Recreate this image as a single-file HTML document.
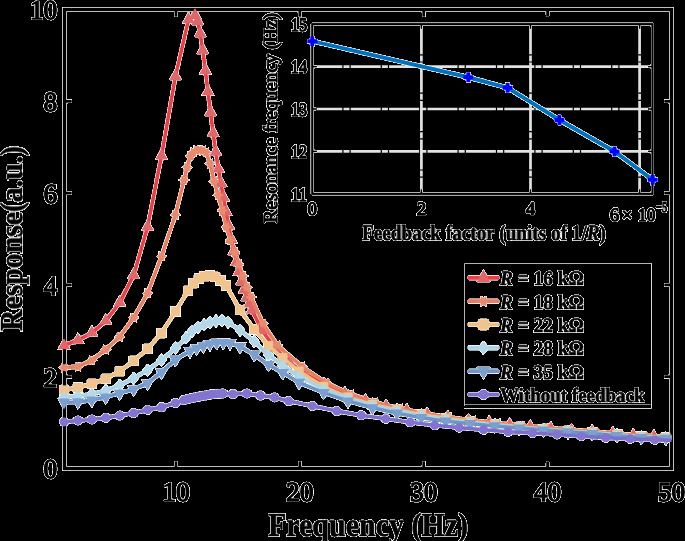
<!DOCTYPE html>
<html><head><meta charset="utf-8"><style>html,body{margin:0;padding:0;background:#000;width:685px;height:541px;overflow:hidden}svg{display:block}</style></head>
<body><svg width="685" height="541" viewBox="0 0 685 541"><defs><clipPath id="pc"><rect x="64.5" y="9.5" width="607" height="459"/></clipPath>
<filter id="halo" filterUnits="userSpaceOnUse" x="0" y="0" width="685" height="541" color-interpolation-filters="sRGB"><feConvolveMatrix in="SourceAlpha" order="3" kernelMatrix="0.0005 0.0016 0.0005 0.0016 1 0.0016 0.0005 0.0016 0.0005" divisor="1" edgeMode="none" result="b"/><feComponentTransfer in="b" result="m2"><feFuncA type="linear" slope="165.75" intercept="0"/></feComponentTransfer><feComponentTransfer in="SourceAlpha" result="m1"><feFuncA type="linear" slope="255.0" intercept="0"/></feComponentTransfer><feComposite in="m1" in2="m2" operator="arithmetic" k1="0" k2="1" k3="1" k4="0" result="m"/><feFlood flood-color="#ffffff" result="w"/><feComposite in="SourceGraphic" in2="w" operator="over" result="ow"/><feComposite in="ow" in2="m" operator="in"/></filter></defs>
<line x1="421.40" y1="24.2" x2="421.40" y2="193.8" stroke="#e2e2e2" stroke-width="2.7" stroke-dasharray="30 1.2 6 1.2"/>
<line x1="530.50" y1="24.2" x2="530.50" y2="193.8" stroke="#e2e2e2" stroke-width="2.7" stroke-dasharray="30 1.2 6 1.2"/>
<line x1="639.60" y1="24.2" x2="639.60" y2="193.8" stroke="#e2e2e2" stroke-width="2.7" stroke-dasharray="30 1.2 6 1.2"/>
<line x1="312.3" y1="151.40" x2="652.5" y2="151.40" stroke="#e2e2e2" stroke-width="2.7" stroke-dasharray="30 1.2 6 1.2"/>
<line x1="312.3" y1="109.00" x2="652.5" y2="109.00" stroke="#e2e2e2" stroke-width="2.7" stroke-dasharray="30 1.2 6 1.2"/>
<line x1="312.3" y1="66.60" x2="652.5" y2="66.60" stroke="#e2e2e2" stroke-width="2.7" stroke-dasharray="30 1.2 6 1.2"/>
<g filter="url(#halo)">
<rect x="64.5" y="9.5" width="607" height="459" fill="none" stroke="#000" stroke-width="3.5"/>
<line x1="175.99" y1="467" x2="175.99" y2="461.3" stroke="#000" stroke-width="2.8"/>
<line x1="175.99" y1="11" x2="175.99" y2="16.7" stroke="#000" stroke-width="2.8"/>
<line x1="299.87" y1="467" x2="299.87" y2="461.3" stroke="#000" stroke-width="2.8"/>
<line x1="299.87" y1="11" x2="299.87" y2="16.7" stroke="#000" stroke-width="2.8"/>
<line x1="423.74" y1="467" x2="423.74" y2="461.3" stroke="#000" stroke-width="2.8"/>
<line x1="423.74" y1="11" x2="423.74" y2="16.7" stroke="#000" stroke-width="2.8"/>
<line x1="547.62" y1="467" x2="547.62" y2="461.3" stroke="#000" stroke-width="2.8"/>
<line x1="547.62" y1="11" x2="547.62" y2="16.7" stroke="#000" stroke-width="2.8"/>
<line x1="66" y1="376.70" x2="71.7" y2="376.70" stroke="#000" stroke-width="2.8"/>
<line x1="670" y1="376.70" x2="664.3" y2="376.70" stroke="#000" stroke-width="2.8"/>
<line x1="66" y1="284.90" x2="71.7" y2="284.90" stroke="#000" stroke-width="2.8"/>
<line x1="670" y1="284.90" x2="664.3" y2="284.90" stroke="#000" stroke-width="2.8"/>
<line x1="66" y1="193.10" x2="71.7" y2="193.10" stroke="#000" stroke-width="2.8"/>
<line x1="670" y1="193.10" x2="664.3" y2="193.10" stroke="#000" stroke-width="2.8"/>
<line x1="66" y1="101.30" x2="71.7" y2="101.30" stroke="#000" stroke-width="2.8"/>
<line x1="670" y1="101.30" x2="664.3" y2="101.30" stroke="#000" stroke-width="2.8"/>
<polyline clip-path="url(#pc)" points="64.00,345.50 77.93,340.16 91.86,332.85 105.79,320.86 119.72,302.57 133.65,275.18 147.58,226.92 161.51,155.86 175.44,76.31 188.50,19.66 195.00,15.45 197.59,21.26 200.18,33.22 202.77,50.32 205.36,70.60 207.95,91.62 210.55,112.45 213.14,132.99 215.73,152.11 218.32,168.91 220.91,183.45 223.50,197.52 226.09,211.78 228.68,225.91 231.27,239.50 233.86,251.35 236.45,262.03 239.05,271.93 241.64,281.25 244.23,289.78 246.82,297.25 249.41,303.85 252.00,310.00 262.00,330.55 275.00,348.13 289.00,361.90 304.00,372.94 324.30,384.71 344.90,393.84 365.50,400.86 386.10,406.23 406.70,410.67 427.30,414.46 447.90,417.67 468.50,420.46 489.10,422.90 509.70,425.05 530.30,426.98 550.90,428.74 571.50,430.32 592.10,431.87 612.70,433.66 633.30,435.59 653.90,436.72 672.00,437.20" fill="none" stroke="#ec3f45" stroke-width="3.6" stroke-linejoin="round"/>
<path d="M64.00,338.17L70.20,349.17L57.80,349.17Z" fill="#e0666a"/>
<path d="M77.93,332.83L84.13,343.83L71.73,343.83Z" fill="#e0666a"/>
<path d="M91.86,325.52L98.06,336.52L85.66,336.52Z" fill="#e0666a"/>
<path d="M105.79,313.52L111.99,324.52L99.59,324.52Z" fill="#e0666a"/>
<path d="M119.72,295.24L125.92,306.24L113.52,306.24Z" fill="#e0666a"/>
<path d="M133.65,267.85L139.85,278.85L127.45,278.85Z" fill="#e0666a"/>
<path d="M147.58,219.59L153.78,230.59L141.38,230.59Z" fill="#e0666a"/>
<path d="M161.51,148.53L167.71,159.53L155.31,159.53Z" fill="#e0666a"/>
<path d="M175.44,68.97L181.64,79.97L169.24,79.97Z" fill="#e0666a"/>
<path d="M188.50,12.33L194.70,23.33L182.30,23.33Z" fill="#e0666a"/>
<path d="M195.00,8.12L201.20,19.12L188.80,19.12Z" fill="#e0666a"/>
<path d="M197.59,13.93L203.79,24.93L191.39,24.93Z" fill="#e0666a"/>
<path d="M200.18,25.90L206.38,36.90L193.98,36.90Z" fill="#e0666a"/>
<path d="M202.77,43.00L208.97,54.00L196.57,54.00Z" fill="#e0666a"/>
<path d="M205.36,63.30L211.56,74.30L199.16,74.30Z" fill="#e0666a"/>
<path d="M207.95,84.33L214.15,95.33L201.75,95.33Z" fill="#e0666a"/>
<path d="M210.55,105.08L216.75,116.08L204.35,116.08Z" fill="#e0666a"/>
<path d="M213.14,125.63L219.34,136.63L206.94,136.63Z" fill="#e0666a"/>
<path d="M215.73,144.76L221.93,155.76L209.53,155.76Z" fill="#e0666a"/>
<path d="M218.32,161.57L224.52,172.57L212.12,172.57Z" fill="#e0666a"/>
<path d="M220.91,176.11L227.11,187.11L214.71,187.11Z" fill="#e0666a"/>
<path d="M223.50,190.19L229.70,201.19L217.30,201.19Z" fill="#e0666a"/>
<path d="M226.09,204.45L232.29,215.45L219.89,215.45Z" fill="#e0666a"/>
<path d="M228.68,218.58L234.88,229.58L222.48,229.58Z" fill="#e0666a"/>
<path d="M231.27,232.18L237.47,243.18L225.07,243.18Z" fill="#e0666a"/>
<path d="M233.86,244.03L240.06,255.03L227.66,255.03Z" fill="#e0666a"/>
<path d="M236.45,254.71L242.65,265.71L230.25,265.71Z" fill="#e0666a"/>
<path d="M239.05,264.58L245.25,275.58L232.85,275.58Z" fill="#e0666a"/>
<path d="M241.64,273.91L247.84,284.91L235.44,284.91Z" fill="#e0666a"/>
<path d="M244.23,282.44L250.43,293.44L238.03,293.44Z" fill="#e0666a"/>
<path d="M246.82,289.91L253.02,300.91L240.62,300.91Z" fill="#e0666a"/>
<path d="M249.41,296.52L255.61,307.52L243.21,307.52Z" fill="#e0666a"/>
<path d="M252.00,302.67L258.20,313.67L245.80,313.67Z" fill="#e0666a"/>
<path d="M262.00,323.21L268.20,334.21L255.80,334.21Z" fill="#e0666a"/>
<path d="M275.00,340.80L281.20,351.80L268.80,351.80Z" fill="#e0666a"/>
<path d="M289.00,354.57L295.20,365.57L282.80,365.57Z" fill="#e0666a"/>
<path d="M304.00,365.61L310.20,376.61L297.80,376.61Z" fill="#e0666a"/>
<path d="M324.30,377.37L330.50,388.37L318.10,388.37Z" fill="#e0666a"/>
<path d="M344.90,386.50L351.10,397.50L338.70,397.50Z" fill="#e0666a"/>
<path d="M365.50,393.52L371.70,404.52L359.30,404.52Z" fill="#e0666a"/>
<path d="M386.10,398.90L392.30,409.90L379.90,409.90Z" fill="#e0666a"/>
<path d="M406.70,403.34L412.90,414.34L400.50,414.34Z" fill="#e0666a"/>
<path d="M427.30,407.13L433.50,418.13L421.10,418.13Z" fill="#e0666a"/>
<path d="M447.90,410.34L454.10,421.34L441.70,421.34Z" fill="#e0666a"/>
<path d="M468.50,413.12L474.70,424.12L462.30,424.12Z" fill="#e0666a"/>
<path d="M489.10,415.57L495.30,426.57L482.90,426.57Z" fill="#e0666a"/>
<path d="M509.70,417.72L515.90,428.72L503.50,428.72Z" fill="#e0666a"/>
<path d="M530.30,419.64L536.50,430.64L524.10,430.64Z" fill="#e0666a"/>
<path d="M550.90,421.41L557.10,432.41L544.70,432.41Z" fill="#e0666a"/>
<path d="M571.50,422.99L577.70,433.99L565.30,433.99Z" fill="#e0666a"/>
<path d="M592.10,424.54L598.30,435.54L585.90,435.54Z" fill="#e0666a"/>
<path d="M612.70,426.32L618.90,437.32L606.50,437.32Z" fill="#e0666a"/>
<path d="M633.30,428.26L639.50,439.26L627.10,439.26Z" fill="#e0666a"/>
<path d="M653.90,429.39L660.10,440.39L647.70,440.39Z" fill="#e0666a"/>
<polyline clip-path="url(#pc)" points="64.00,367.60 77.93,366.65 91.86,360.29 105.79,349.51 119.72,336.76 133.65,317.61 147.58,293.41 161.51,256.41 175.44,214.71 184.00,179.97 187.14,167.26 190.29,156.30 193.43,152.21 196.57,150.49 199.71,150.02 202.86,150.51 206.00,152.36 210.00,163.51 214.10,181.41 218.20,195.13 222.30,210.39 226.40,226.88 230.50,240.16 234.60,252.30 238.70,264.42 242.80,276.07 246.90,287.21 251.00,297.07 263.00,323.65 277.30,345.25 301.80,366.42 326.30,382.89 350.75,394.31 375.20,402.39 399.65,408.42 424.10,413.34 448.55,417.28 473.00,420.53 497.45,423.30 521.90,425.70 546.35,427.88 570.80,429.88 595.25,431.81 619.70,434.01 644.15,435.91 672.00,436.80" fill="none" stroke="#ea7d5e" stroke-width="3.6" stroke-linejoin="round"/>
<path d="M69.40,367.60L66.70,366.04L66.70,362.92L64.00,364.48L61.30,362.92L61.30,366.04L58.60,367.60L61.30,369.16L61.30,372.28L64.00,370.72L66.70,372.28L66.70,369.16Z" fill="#ea8a6c"/>
<path d="M83.33,366.65L80.63,365.09L80.63,361.97L77.93,363.53L75.23,361.97L75.23,365.09L72.53,366.65L75.23,368.20L75.23,371.32L77.93,369.76L80.63,371.32L80.63,368.20Z" fill="#ea8a6c"/>
<path d="M97.26,360.29L94.56,358.73L94.56,355.61L91.86,357.17L89.16,355.61L89.16,358.73L86.46,360.29L89.16,361.85L89.16,364.97L91.86,363.41L94.56,364.97L94.56,361.85Z" fill="#ea8a6c"/>
<path d="M111.19,349.51L108.49,347.95L108.49,344.83L105.79,346.39L103.09,344.83L103.09,347.95L100.39,349.51L103.09,351.07L103.09,354.18L105.79,352.63L108.49,354.18L108.49,351.07Z" fill="#ea8a6c"/>
<path d="M125.12,336.76L122.42,335.20L122.42,332.08L119.72,333.64L117.02,332.08L117.02,335.20L114.32,336.76L117.02,338.32L117.02,341.43L119.72,339.88L122.42,341.43L122.42,338.32Z" fill="#ea8a6c"/>
<path d="M139.05,317.61L136.35,316.06L136.35,312.94L133.65,314.50L130.95,312.94L130.95,316.06L128.25,317.61L130.95,319.17L130.95,322.29L133.65,320.73L136.35,322.29L136.35,319.17Z" fill="#ea8a6c"/>
<path d="M152.98,293.41L150.28,291.85L150.28,288.73L147.58,290.29L144.88,288.73L144.88,291.85L142.18,293.41L144.88,294.97L144.88,298.09L147.58,296.53L150.28,298.09L150.28,294.97Z" fill="#ea8a6c"/>
<path d="M166.91,256.41L164.21,254.85L164.21,251.73L161.51,253.29L158.81,251.73L158.81,254.85L156.11,256.41L158.81,257.97L158.81,261.09L161.51,259.53L164.21,261.09L164.21,257.97Z" fill="#ea8a6c"/>
<path d="M180.84,214.71L178.14,213.15L178.14,210.04L175.44,211.59L172.74,210.04L172.74,213.15L170.04,214.71L172.74,216.27L172.74,219.39L175.44,217.83L178.14,219.39L178.14,216.27Z" fill="#ea8a6c"/>
<path d="M189.40,179.97L186.70,178.41L186.70,175.30L184.00,176.85L181.30,175.30L181.30,178.41L178.60,179.97L181.30,181.53L181.30,184.65L184.00,183.09L186.70,184.65L186.70,181.53Z" fill="#ea8a6c"/>
<path d="M192.54,167.24L189.84,165.68L189.84,162.57L187.14,164.12L184.44,162.57L184.44,165.68L181.74,167.24L184.44,168.80L184.44,171.92L187.14,170.36L189.84,171.92L189.84,168.80Z" fill="#ea8a6c"/>
<path d="M195.69,156.31L192.99,154.75L192.99,151.63L190.29,153.19L187.59,151.63L187.59,154.75L184.89,156.31L187.59,157.87L187.59,160.99L190.29,159.43L192.99,160.99L192.99,157.87Z" fill="#ea8a6c"/>
<path d="M198.83,152.21L196.13,150.65L196.13,147.53L193.43,149.09L190.73,147.53L190.73,150.65L188.03,152.21L190.73,153.77L190.73,156.88L193.43,155.32L196.13,156.88L196.13,153.77Z" fill="#ea8a6c"/>
<path d="M201.97,150.49L199.27,148.93L199.27,145.81L196.57,147.37L193.87,145.81L193.87,148.93L191.17,150.49L193.87,152.05L193.87,155.17L196.57,153.61L199.27,155.17L199.27,152.05Z" fill="#ea8a6c"/>
<path d="M205.11,150.02L202.41,148.46L202.41,145.34L199.71,146.90L197.01,145.34L197.01,148.46L194.31,150.02L197.01,151.58L197.01,154.70L199.71,153.14L202.41,154.70L202.41,151.58Z" fill="#ea8a6c"/>
<path d="M208.26,150.51L205.56,148.95L205.56,145.83L202.86,147.39L200.16,145.83L200.16,148.95L197.46,150.51L200.16,152.07L200.16,155.19L202.86,153.63L205.56,155.19L205.56,152.07Z" fill="#ea8a6c"/>
<path d="M211.40,152.36L208.70,150.80L208.70,147.69L206.00,149.24L203.30,147.69L203.30,150.80L200.60,152.36L203.30,153.92L203.30,157.04L206.00,155.48L208.70,157.04L208.70,153.92Z" fill="#ea8a6c"/>
<path d="M215.40,163.51L212.70,161.95L212.70,158.83L210.00,160.39L207.30,158.83L207.30,161.95L204.60,163.51L207.30,165.07L207.30,168.19L210.00,166.63L212.70,168.19L212.70,165.07Z" fill="#ea8a6c"/>
<path d="M219.50,181.41L216.80,179.85L216.80,176.73L214.10,178.29L211.40,176.73L211.40,179.85L208.70,181.41L211.40,182.96L211.40,186.08L214.10,184.52L216.80,186.08L216.80,182.96Z" fill="#ea8a6c"/>
<path d="M223.60,195.13L220.90,193.57L220.90,190.46L218.20,192.02L215.50,190.46L215.50,193.57L212.80,195.13L215.50,196.69L215.50,199.81L218.20,198.25L220.90,199.81L220.90,196.69Z" fill="#ea8a6c"/>
<path d="M227.70,210.39L225.00,208.84L225.00,205.72L222.30,207.28L219.60,205.72L219.60,208.84L216.90,210.39L219.60,211.95L219.60,215.07L222.30,213.51L225.00,215.07L225.00,211.95Z" fill="#ea8a6c"/>
<path d="M231.80,226.88L229.10,225.32L229.10,222.20L226.40,223.76L223.70,222.20L223.70,225.32L221.00,226.88L223.70,228.44L223.70,231.56L226.40,230.00L229.10,231.56L229.10,228.44Z" fill="#ea8a6c"/>
<path d="M235.90,240.16L233.20,238.61L233.20,235.49L230.50,237.05L227.80,235.49L227.80,238.61L225.10,240.16L227.80,241.72L227.80,244.84L230.50,243.28L233.20,244.84L233.20,241.72Z" fill="#ea8a6c"/>
<path d="M240.00,252.30L237.30,250.74L237.30,247.62L234.60,249.18L231.90,247.62L231.90,250.74L229.20,252.30L231.90,253.86L231.90,256.98L234.60,255.42L237.30,256.98L237.30,253.86Z" fill="#ea8a6c"/>
<path d="M244.10,264.42L241.40,262.86L241.40,259.74L238.70,261.30L236.00,259.74L236.00,262.86L233.30,264.42L236.00,265.98L236.00,269.09L238.70,267.54L241.40,269.09L241.40,265.98Z" fill="#ea8a6c"/>
<path d="M248.20,276.07L245.50,274.51L245.50,271.39L242.80,272.95L240.10,271.39L240.10,274.51L237.40,276.07L240.10,277.63L240.10,280.74L242.80,279.18L245.50,280.74L245.50,277.63Z" fill="#ea8a6c"/>
<path d="M252.30,287.21L249.60,285.65L249.60,282.53L246.90,284.09L244.20,282.53L244.20,285.65L241.50,287.21L244.20,288.77L244.20,291.89L246.90,290.33L249.60,291.89L249.60,288.77Z" fill="#ea8a6c"/>
<path d="M256.40,297.07L253.70,295.51L253.70,292.39L251.00,293.95L248.30,292.39L248.30,295.51L245.60,297.07L248.30,298.63L248.30,301.74L251.00,300.18L253.70,301.74L253.70,298.63Z" fill="#ea8a6c"/>
<path d="M268.40,323.65L265.70,322.09L265.70,318.97L263.00,320.53L260.30,318.97L260.30,322.09L257.60,323.65L260.30,325.21L260.30,328.32L263.00,326.77L265.70,328.32L265.70,325.21Z" fill="#ea8a6c"/>
<path d="M282.70,345.25L280.00,343.69L280.00,340.57L277.30,342.13L274.60,340.57L274.60,343.69L271.90,345.25L274.60,346.81L274.60,349.92L277.30,348.36L280.00,349.92L280.00,346.81Z" fill="#ea8a6c"/>
<path d="M307.20,366.42L304.50,364.86L304.50,361.74L301.80,363.30L299.10,361.74L299.10,364.86L296.40,366.42L299.10,367.97L299.10,371.09L301.80,369.53L304.50,371.09L304.50,367.97Z" fill="#ea8a6c"/>
<path d="M331.70,382.89L329.00,381.33L329.00,378.21L326.30,379.77L323.60,378.21L323.60,381.33L320.90,382.89L323.60,384.45L323.60,387.56L326.30,386.01L329.00,387.56L329.00,384.45Z" fill="#ea8a6c"/>
<path d="M356.15,394.31L353.45,392.76L353.45,389.64L350.75,391.20L348.05,389.64L348.05,392.76L345.35,394.31L348.05,395.87L348.05,398.99L350.75,397.43L353.45,398.99L353.45,395.87Z" fill="#ea8a6c"/>
<path d="M380.60,402.39L377.90,400.83L377.90,397.71L375.20,399.27L372.50,397.71L372.50,400.83L369.80,402.39L372.50,403.95L372.50,407.06L375.20,405.50L377.90,407.06L377.90,403.95Z" fill="#ea8a6c"/>
<path d="M405.05,408.42L402.35,406.86L402.35,403.75L399.65,405.30L396.95,403.75L396.95,406.86L394.25,408.42L396.95,409.98L396.95,413.10L399.65,411.54L402.35,413.10L402.35,409.98Z" fill="#ea8a6c"/>
<path d="M429.50,413.34L426.80,411.78L426.80,408.66L424.10,410.22L421.40,408.66L421.40,411.78L418.70,413.34L421.40,414.90L421.40,418.01L424.10,416.46L426.80,418.01L426.80,414.90Z" fill="#ea8a6c"/>
<path d="M453.95,417.28L451.25,415.72L451.25,412.60L448.55,414.16L445.85,412.60L445.85,415.72L443.15,417.28L445.85,418.84L445.85,421.96L448.55,420.40L451.25,421.96L451.25,418.84Z" fill="#ea8a6c"/>
<path d="M478.40,420.53L475.70,418.97L475.70,415.85L473.00,417.41L470.30,415.85L470.30,418.97L467.60,420.53L470.30,422.09L470.30,425.20L473.00,423.64L475.70,425.20L475.70,422.09Z" fill="#ea8a6c"/>
<path d="M502.85,423.30L500.15,421.74L500.15,418.63L497.45,420.19L494.75,418.63L494.75,421.74L492.05,423.30L494.75,424.86L494.75,427.98L497.45,426.42L500.15,427.98L500.15,424.86Z" fill="#ea8a6c"/>
<path d="M527.30,425.70L524.60,424.14L524.60,421.02L521.90,422.58L519.20,421.02L519.20,424.14L516.50,425.70L519.20,427.26L519.20,430.37L521.90,428.82L524.60,430.37L524.60,427.26Z" fill="#ea8a6c"/>
<path d="M551.75,427.88L549.05,426.32L549.05,423.20L546.35,424.76L543.65,423.20L543.65,426.32L540.95,427.88L543.65,429.44L543.65,432.56L546.35,431.00L549.05,432.56L549.05,429.44Z" fill="#ea8a6c"/>
<path d="M576.20,429.88L573.50,428.32L573.50,425.20L570.80,426.76L568.10,425.20L568.10,428.32L565.40,429.88L568.10,431.44L568.10,434.56L570.80,433.00L573.50,434.56L573.50,431.44Z" fill="#ea8a6c"/>
<path d="M600.65,431.81L597.95,430.26L597.95,427.14L595.25,428.70L592.55,427.14L592.55,430.26L589.85,431.81L592.55,433.37L592.55,436.49L595.25,434.93L597.95,436.49L597.95,433.37Z" fill="#ea8a6c"/>
<path d="M625.10,434.01L622.40,432.45L622.40,429.34L619.70,430.90L617.00,429.34L617.00,432.45L614.30,434.01L617.00,435.57L617.00,438.69L619.70,437.13L622.40,438.69L622.40,435.57Z" fill="#ea8a6c"/>
<path d="M649.55,435.91L646.85,434.36L646.85,431.24L644.15,432.80L641.45,431.24L641.45,434.36L638.75,435.91L641.45,437.47L641.45,440.59L644.15,439.03L646.85,440.59L646.85,437.47Z" fill="#ea8a6c"/>
<polyline clip-path="url(#pc)" points="64.50,390.00 77.93,387.58 91.86,383.70 105.79,378.72 119.72,371.18 133.65,360.94 147.58,348.81 161.51,333.12 175.44,311.40 188.00,290.71 193.43,283.18 198.86,278.52 204.29,276.29 209.71,275.53 215.14,276.93 220.57,280.41 226.00,285.40 240.00,309.98 254.30,329.46 268.50,345.57 282.70,357.75 299.00,371.26 323.50,386.55 347.95,397.17 372.40,404.53 396.85,409.87 421.30,414.49 445.75,418.33 470.20,421.51 494.65,424.32 519.10,426.91 543.55,429.13 568.00,430.85 592.45,432.45 616.90,434.50 641.35,436.56 665.80,437.49 672.00,437.60" fill="none" stroke="#eebe82" stroke-width="3.6" stroke-linejoin="round"/>
<rect x="59.30" y="385.36" width="9.40" height="9.40" fill="#f0c48c"/>
<rect x="73.23" y="382.88" width="9.40" height="9.40" fill="#f0c48c"/>
<rect x="87.16" y="379.00" width="9.40" height="9.40" fill="#f0c48c"/>
<rect x="101.09" y="374.02" width="9.40" height="9.40" fill="#f0c48c"/>
<rect x="115.02" y="366.48" width="9.40" height="9.40" fill="#f0c48c"/>
<rect x="128.95" y="356.24" width="9.40" height="9.40" fill="#f0c48c"/>
<rect x="142.88" y="344.11" width="9.40" height="9.40" fill="#f0c48c"/>
<rect x="156.81" y="328.42" width="9.40" height="9.40" fill="#f0c48c"/>
<rect x="170.74" y="306.70" width="9.40" height="9.40" fill="#f0c48c"/>
<rect x="183.30" y="286.01" width="9.40" height="9.40" fill="#f0c48c"/>
<rect x="188.73" y="278.48" width="9.40" height="9.40" fill="#f0c48c"/>
<rect x="194.16" y="273.83" width="9.40" height="9.40" fill="#f0c48c"/>
<rect x="199.59" y="271.59" width="9.40" height="9.40" fill="#f0c48c"/>
<rect x="205.01" y="270.83" width="9.40" height="9.40" fill="#f0c48c"/>
<rect x="210.44" y="272.23" width="9.40" height="9.40" fill="#f0c48c"/>
<rect x="215.87" y="275.71" width="9.40" height="9.40" fill="#f0c48c"/>
<rect x="221.30" y="280.70" width="9.40" height="9.40" fill="#f0c48c"/>
<rect x="235.30" y="305.28" width="9.40" height="9.40" fill="#f0c48c"/>
<rect x="249.60" y="324.76" width="9.40" height="9.40" fill="#f0c48c"/>
<rect x="263.80" y="340.87" width="9.40" height="9.40" fill="#f0c48c"/>
<rect x="278.00" y="353.05" width="9.40" height="9.40" fill="#f0c48c"/>
<rect x="294.30" y="366.56" width="9.40" height="9.40" fill="#f0c48c"/>
<rect x="318.80" y="381.85" width="9.40" height="9.40" fill="#f0c48c"/>
<rect x="343.25" y="392.47" width="9.40" height="9.40" fill="#f0c48c"/>
<rect x="367.70" y="399.83" width="9.40" height="9.40" fill="#f0c48c"/>
<rect x="392.15" y="405.17" width="9.40" height="9.40" fill="#f0c48c"/>
<rect x="416.60" y="409.79" width="9.40" height="9.40" fill="#f0c48c"/>
<rect x="441.05" y="413.63" width="9.40" height="9.40" fill="#f0c48c"/>
<rect x="465.50" y="416.81" width="9.40" height="9.40" fill="#f0c48c"/>
<rect x="489.95" y="419.62" width="9.40" height="9.40" fill="#f0c48c"/>
<rect x="514.40" y="422.21" width="9.40" height="9.40" fill="#f0c48c"/>
<rect x="538.85" y="424.43" width="9.40" height="9.40" fill="#f0c48c"/>
<rect x="563.30" y="426.15" width="9.40" height="9.40" fill="#f0c48c"/>
<rect x="587.75" y="427.75" width="9.40" height="9.40" fill="#f0c48c"/>
<rect x="612.20" y="429.80" width="9.40" height="9.40" fill="#f0c48c"/>
<rect x="636.65" y="431.86" width="9.40" height="9.40" fill="#f0c48c"/>
<rect x="661.10" y="432.79" width="9.40" height="9.40" fill="#f0c48c"/>
<polyline clip-path="url(#pc)" points="64.50,397.00 77.93,396.04 91.86,394.12 105.79,390.57 119.72,385.12 133.65,378.30 147.58,370.13 161.51,360.07 175.44,348.06 186.00,337.87 192.00,331.32 198.00,327.21 204.00,324.89 210.00,322.39 216.00,320.96 222.00,320.55 228.00,322.14 240.00,330.15 254.30,341.53 268.50,354.91 282.70,365.34 299.00,376.40 323.50,388.99 347.95,398.42 372.40,405.43 396.85,410.84 421.30,415.84 445.75,419.77 470.20,422.53 494.65,424.96 519.10,427.31 543.55,429.43 568.00,431.23 592.45,432.94 616.90,434.98 641.35,436.97 665.80,437.89 672.00,438.00" fill="none" stroke="#a8d4e6" stroke-width="3.6" stroke-linejoin="round"/>
<path d="M64.00,390.82L69.00,397.02L64.00,403.22L59.00,397.02Z" fill="#b2d8ea"/>
<path d="M77.93,389.84L82.93,396.04L77.93,402.24L72.93,396.04Z" fill="#b2d8ea"/>
<path d="M91.86,387.92L96.86,394.12L91.86,400.32L86.86,394.12Z" fill="#b2d8ea"/>
<path d="M105.79,384.37L110.79,390.57L105.79,396.77L100.79,390.57Z" fill="#b2d8ea"/>
<path d="M119.72,378.92L124.72,385.12L119.72,391.32L114.72,385.12Z" fill="#b2d8ea"/>
<path d="M133.65,372.10L138.65,378.30L133.65,384.50L128.65,378.30Z" fill="#b2d8ea"/>
<path d="M147.58,363.93L152.58,370.13L147.58,376.33L142.58,370.13Z" fill="#b2d8ea"/>
<path d="M161.51,353.87L166.51,360.07L161.51,366.27L156.51,360.07Z" fill="#b2d8ea"/>
<path d="M175.44,341.86L180.44,348.06L175.44,354.26L170.44,348.06Z" fill="#b2d8ea"/>
<path d="M186.00,331.67L191.00,337.87L186.00,344.07L181.00,337.87Z" fill="#b2d8ea"/>
<path d="M192.00,325.12L197.00,331.32L192.00,337.52L187.00,331.32Z" fill="#b2d8ea"/>
<path d="M198.00,321.01L203.00,327.21L198.00,333.41L193.00,327.21Z" fill="#b2d8ea"/>
<path d="M204.00,318.69L209.00,324.89L204.00,331.09L199.00,324.89Z" fill="#b2d8ea"/>
<path d="M210.00,316.19L215.00,322.39L210.00,328.59L205.00,322.39Z" fill="#b2d8ea"/>
<path d="M216.00,314.76L221.00,320.96L216.00,327.16L211.00,320.96Z" fill="#b2d8ea"/>
<path d="M222.00,314.35L227.00,320.55L222.00,326.75L217.00,320.55Z" fill="#b2d8ea"/>
<path d="M228.00,315.94L233.00,322.14L228.00,328.34L223.00,322.14Z" fill="#b2d8ea"/>
<path d="M240.00,323.95L245.00,330.15L240.00,336.35L235.00,330.15Z" fill="#b2d8ea"/>
<path d="M254.30,335.33L259.30,341.53L254.30,347.73L249.30,341.53Z" fill="#b2d8ea"/>
<path d="M268.50,348.71L273.50,354.91L268.50,361.11L263.50,354.91Z" fill="#b2d8ea"/>
<path d="M282.70,359.14L287.70,365.34L282.70,371.54L277.70,365.34Z" fill="#b2d8ea"/>
<path d="M299.00,370.20L304.00,376.40L299.00,382.60L294.00,376.40Z" fill="#b2d8ea"/>
<path d="M323.50,382.79L328.50,388.99L323.50,395.19L318.50,388.99Z" fill="#b2d8ea"/>
<path d="M347.95,392.22L352.95,398.42L347.95,404.62L342.95,398.42Z" fill="#b2d8ea"/>
<path d="M372.40,399.23L377.40,405.43L372.40,411.63L367.40,405.43Z" fill="#b2d8ea"/>
<path d="M396.85,404.64L401.85,410.84L396.85,417.04L391.85,410.84Z" fill="#b2d8ea"/>
<path d="M421.30,409.64L426.30,415.84L421.30,422.04L416.30,415.84Z" fill="#b2d8ea"/>
<path d="M445.75,413.57L450.75,419.77L445.75,425.97L440.75,419.77Z" fill="#b2d8ea"/>
<path d="M470.20,416.33L475.20,422.53L470.20,428.73L465.20,422.53Z" fill="#b2d8ea"/>
<path d="M494.65,418.76L499.65,424.96L494.65,431.16L489.65,424.96Z" fill="#b2d8ea"/>
<path d="M519.10,421.11L524.10,427.31L519.10,433.51L514.10,427.31Z" fill="#b2d8ea"/>
<path d="M543.55,423.23L548.55,429.43L543.55,435.63L538.55,429.43Z" fill="#b2d8ea"/>
<path d="M568.00,425.03L573.00,431.23L568.00,437.43L563.00,431.23Z" fill="#b2d8ea"/>
<path d="M592.45,426.74L597.45,432.94L592.45,439.14L587.45,432.94Z" fill="#b2d8ea"/>
<path d="M616.90,428.78L621.90,434.98L616.90,441.18L611.90,434.98Z" fill="#b2d8ea"/>
<path d="M641.35,430.77L646.35,436.97L641.35,443.17L636.35,436.97Z" fill="#b2d8ea"/>
<path d="M665.80,431.69L670.80,437.89L665.80,444.09L660.80,437.89Z" fill="#b2d8ea"/>
<polyline clip-path="url(#pc)" points="64.50,402.20 77.93,402.01 91.86,400.11 105.79,397.05 119.72,393.08 133.65,389.19 147.58,383.26 161.51,372.08 175.44,359.66 190.00,351.00 196.67,348.20 203.33,345.88 210.00,344.00 216.67,342.57 223.33,342.50 230.00,342.99 240.00,346.38 254.30,354.77 268.50,364.70 282.70,372.63 299.00,382.48 323.50,392.58 347.95,401.11 372.40,407.84 396.85,413.18 421.30,417.71 445.75,421.20 470.20,423.70 494.65,425.93 519.10,428.11 543.55,430.12 568.00,431.92 592.45,433.64 616.90,435.68 641.35,437.60 665.80,438.34 672.00,438.40" fill="none" stroke="#6e95c8" stroke-width="3.6" stroke-linejoin="round"/>
<path d="M64.00,409.53L70.20,398.53L57.80,398.53Z" fill="#7b9fcf"/>
<path d="M77.93,409.34L84.13,398.34L71.73,398.34Z" fill="#7b9fcf"/>
<path d="M91.86,407.45L98.06,396.45L85.66,396.45Z" fill="#7b9fcf"/>
<path d="M105.79,404.39L111.99,393.39L99.59,393.39Z" fill="#7b9fcf"/>
<path d="M119.72,400.41L125.92,389.41L113.52,389.41Z" fill="#7b9fcf"/>
<path d="M133.65,396.52L139.85,385.52L127.45,385.52Z" fill="#7b9fcf"/>
<path d="M147.58,390.59L153.78,379.59L141.38,379.59Z" fill="#7b9fcf"/>
<path d="M161.51,379.41L167.71,368.41L155.31,368.41Z" fill="#7b9fcf"/>
<path d="M175.44,366.99L181.64,355.99L169.24,355.99Z" fill="#7b9fcf"/>
<path d="M190.00,358.33L196.20,347.33L183.80,347.33Z" fill="#7b9fcf"/>
<path d="M196.67,355.54L202.87,344.54L190.47,344.54Z" fill="#7b9fcf"/>
<path d="M203.33,353.22L209.53,342.22L197.13,342.22Z" fill="#7b9fcf"/>
<path d="M210.00,351.33L216.20,340.33L203.80,340.33Z" fill="#7b9fcf"/>
<path d="M216.67,349.90L222.87,338.90L210.47,338.90Z" fill="#7b9fcf"/>
<path d="M223.33,349.83L229.53,338.83L217.13,338.83Z" fill="#7b9fcf"/>
<path d="M230.00,350.32L236.20,339.32L223.80,339.32Z" fill="#7b9fcf"/>
<path d="M240.00,353.71L246.20,342.71L233.80,342.71Z" fill="#7b9fcf"/>
<path d="M254.30,362.10L260.50,351.10L248.10,351.10Z" fill="#7b9fcf"/>
<path d="M268.50,372.03L274.70,361.03L262.30,361.03Z" fill="#7b9fcf"/>
<path d="M282.70,379.97L288.90,368.97L276.50,368.97Z" fill="#7b9fcf"/>
<path d="M299.00,389.81L305.20,378.81L292.80,378.81Z" fill="#7b9fcf"/>
<path d="M323.50,399.91L329.70,388.91L317.30,388.91Z" fill="#7b9fcf"/>
<path d="M347.95,408.45L354.15,397.45L341.75,397.45Z" fill="#7b9fcf"/>
<path d="M372.40,415.17L378.60,404.17L366.20,404.17Z" fill="#7b9fcf"/>
<path d="M396.85,420.52L403.05,409.52L390.65,409.52Z" fill="#7b9fcf"/>
<path d="M421.30,425.04L427.50,414.04L415.10,414.04Z" fill="#7b9fcf"/>
<path d="M445.75,428.53L451.95,417.53L439.55,417.53Z" fill="#7b9fcf"/>
<path d="M470.20,431.03L476.40,420.03L464.00,420.03Z" fill="#7b9fcf"/>
<path d="M494.65,433.26L500.85,422.26L488.45,422.26Z" fill="#7b9fcf"/>
<path d="M519.10,435.44L525.30,424.44L512.90,424.44Z" fill="#7b9fcf"/>
<path d="M543.55,437.46L549.75,426.46L537.35,426.46Z" fill="#7b9fcf"/>
<path d="M568.00,439.25L574.20,428.25L561.80,428.25Z" fill="#7b9fcf"/>
<path d="M592.45,440.98L598.65,429.98L586.25,429.98Z" fill="#7b9fcf"/>
<path d="M616.90,443.01L623.10,432.01L610.70,432.01Z" fill="#7b9fcf"/>
<path d="M641.35,444.93L647.55,433.93L635.15,433.93Z" fill="#7b9fcf"/>
<path d="M665.80,445.67L672.00,434.67L659.60,434.67Z" fill="#7b9fcf"/>
<polyline clip-path="url(#pc)" points="63.00,422.00 64.00,421.88 77.93,420.43 91.86,419.45 105.79,417.87 119.72,415.56 133.65,413.01 147.58,409.87 161.51,407.21 175.44,402.99 184.00,400.00 187.55,399.10 191.09,398.32 194.64,397.58 198.18,396.83 201.73,396.10 205.27,395.45 208.82,394.84 212.36,394.29 215.91,393.92 219.45,393.63 223.00,393.50 233.00,394.00 246.90,393.50 260.50,395.57 274.60,397.43 288.80,401.08 312.40,405.92 336.85,411.11 361.30,415.34 385.75,418.81 410.20,422.29 434.65,425.27 459.10,427.65 483.55,429.75 508.00,431.73 532.45,433.02 556.90,434.44 581.35,436.19 605.80,437.72 630.25,438.83 654.70,439.90 672.00,440.30" fill="none" stroke="#7c6ecd" stroke-width="3.6" stroke-linejoin="round"/>
<circle cx="64.00" cy="421.88" r="4.50" fill="#8274d0"/>
<circle cx="77.93" cy="420.43" r="4.50" fill="#8274d0"/>
<circle cx="91.86" cy="419.45" r="4.50" fill="#8274d0"/>
<circle cx="105.79" cy="417.87" r="4.50" fill="#8274d0"/>
<circle cx="119.72" cy="415.56" r="4.50" fill="#8274d0"/>
<circle cx="133.65" cy="413.01" r="4.50" fill="#8274d0"/>
<circle cx="147.58" cy="409.87" r="4.50" fill="#8274d0"/>
<circle cx="161.51" cy="407.21" r="4.50" fill="#8274d0"/>
<circle cx="175.44" cy="402.99" r="4.50" fill="#8274d0"/>
<circle cx="184.00" cy="400.00" r="4.50" fill="#8274d0"/>
<circle cx="187.55" cy="399.10" r="4.50" fill="#8274d0"/>
<circle cx="191.09" cy="398.32" r="4.50" fill="#8274d0"/>
<circle cx="194.64" cy="397.58" r="4.50" fill="#8274d0"/>
<circle cx="198.18" cy="396.83" r="4.50" fill="#8274d0"/>
<circle cx="201.73" cy="396.10" r="4.50" fill="#8274d0"/>
<circle cx="205.27" cy="395.45" r="4.50" fill="#8274d0"/>
<circle cx="208.82" cy="394.84" r="4.50" fill="#8274d0"/>
<circle cx="212.36" cy="394.29" r="4.50" fill="#8274d0"/>
<circle cx="215.91" cy="393.92" r="4.50" fill="#8274d0"/>
<circle cx="219.45" cy="393.63" r="4.50" fill="#8274d0"/>
<circle cx="223.00" cy="393.50" r="4.50" fill="#8274d0"/>
<circle cx="233.00" cy="394.00" r="4.50" fill="#8274d0"/>
<circle cx="246.90" cy="393.50" r="4.50" fill="#8274d0"/>
<circle cx="260.50" cy="395.57" r="4.50" fill="#8274d0"/>
<circle cx="274.60" cy="397.43" r="4.50" fill="#8274d0"/>
<circle cx="288.80" cy="401.08" r="4.50" fill="#8274d0"/>
<circle cx="312.40" cy="405.92" r="4.50" fill="#8274d0"/>
<circle cx="336.85" cy="411.11" r="4.50" fill="#8274d0"/>
<circle cx="361.30" cy="415.34" r="4.50" fill="#8274d0"/>
<circle cx="385.75" cy="418.81" r="4.50" fill="#8274d0"/>
<circle cx="410.20" cy="422.29" r="4.50" fill="#8274d0"/>
<circle cx="434.65" cy="425.27" r="4.50" fill="#8274d0"/>
<circle cx="459.10" cy="427.65" r="4.50" fill="#8274d0"/>
<circle cx="483.55" cy="429.75" r="4.50" fill="#8274d0"/>
<circle cx="508.00" cy="431.73" r="4.50" fill="#8274d0"/>
<circle cx="532.45" cy="433.02" r="4.50" fill="#8274d0"/>
<circle cx="556.90" cy="434.44" r="4.50" fill="#8274d0"/>
<circle cx="581.35" cy="436.19" r="4.50" fill="#8274d0"/>
<circle cx="605.80" cy="437.72" r="4.50" fill="#8274d0"/>
<circle cx="630.25" cy="438.83" r="4.50" fill="#8274d0"/>
<circle cx="654.70" cy="439.90" r="4.50" fill="#8274d0"/>
<text x="57.3" y="478.4" text-anchor="end" stroke="#000" stroke-width="1.3" style="font-family:'Liberation Serif',serif;text-rendering:geometricPrecision;font-size:27.6px;font-weight:normal" >0</text>
<text x="57.3" y="386.59999999999997" text-anchor="end" stroke="#000" stroke-width="1.3" style="font-family:'Liberation Serif',serif;text-rendering:geometricPrecision;font-size:27.6px;font-weight:normal" >2</text>
<text x="57.3" y="294.79999999999995" text-anchor="end" stroke="#000" stroke-width="1.3" style="font-family:'Liberation Serif',serif;text-rendering:geometricPrecision;font-size:27.6px;font-weight:normal" >4</text>
<text x="57.3" y="203.00000000000003" text-anchor="end" stroke="#000" stroke-width="1.3" style="font-family:'Liberation Serif',serif;text-rendering:geometricPrecision;font-size:27.6px;font-weight:normal" >6</text>
<text x="57.3" y="111.20000000000002" text-anchor="end" stroke="#000" stroke-width="1.3" style="font-family:'Liberation Serif',serif;text-rendering:geometricPrecision;font-size:27.6px;font-weight:normal" >8</text>
<text x="57.3" y="19.4" text-anchor="end" stroke="#000" stroke-width="1.3" style="font-family:'Liberation Serif',serif;text-rendering:geometricPrecision;font-size:27.6px;font-weight:normal" >10</text>
<text x="175.98979591836735" y="500.8" text-anchor="middle" stroke="#000" stroke-width="1.3" style="font-family:'Liberation Serif',serif;text-rendering:geometricPrecision;font-size:27.6px;font-weight:normal" >10</text>
<text x="299.86734693877554" y="500.8" text-anchor="middle" stroke="#000" stroke-width="1.3" style="font-family:'Liberation Serif',serif;text-rendering:geometricPrecision;font-size:27.6px;font-weight:normal" >20</text>
<text x="423.7448979591837" y="500.8" text-anchor="middle" stroke="#000" stroke-width="1.3" style="font-family:'Liberation Serif',serif;text-rendering:geometricPrecision;font-size:27.6px;font-weight:normal" >30</text>
<text x="547.6224489795918" y="500.8" text-anchor="middle" stroke="#000" stroke-width="1.3" style="font-family:'Liberation Serif',serif;text-rendering:geometricPrecision;font-size:27.6px;font-weight:normal" >40</text>
<text x="671.5" y="500.8" text-anchor="middle" stroke="#000" stroke-width="1.3" style="font-family:'Liberation Serif',serif;text-rendering:geometricPrecision;font-size:27.6px;font-weight:normal" >50</text>
<text x="368" y="535.5" text-anchor="middle" stroke="#000" stroke-width="0.7" style="font-family:'Liberation Serif',serif;text-rendering:geometricPrecision;font-size:33.5px;font-weight:bold" textLength="200" lengthAdjust="spacingAndGlyphs">Frequency (Hz)</text>
<g transform="translate(22,238.5) rotate(-90)"><text x="0" y="0" text-anchor="middle" stroke="#000" stroke-width="0.7" style="font-family:'Liberation Serif',serif;text-rendering:geometricPrecision;font-size:32px;font-weight:bold" textLength="185" lengthAdjust="spacingAndGlyphs">Response(a.u.)</text></g>
<line x1="468" y1="277.80" x2="499" y2="277.80" stroke="#ec3f45" stroke-width="4"/>
<path d="M483.50,269.59L490.44,281.91L476.56,281.91Z" fill="#e0666a"/>
<text x="500" y="285.30" stroke="#000" stroke-width="0.7" textLength="84" lengthAdjust="spacingAndGlyphs" style="font-family:'Liberation Serif',serif;text-rendering:geometricPrecision;font-size:20.5px;font-weight:bold"><tspan font-style="italic">R</tspan> = 16 k&#937;</text>
<line x1="468" y1="301.15" x2="499" y2="301.15" stroke="#ea7d5e" stroke-width="4"/>
<path d="M489.55,301.15L486.52,299.40L486.52,295.91L483.50,297.66L480.48,295.91L480.48,299.40L477.45,301.15L480.48,302.90L480.48,306.39L483.50,304.64L486.52,306.39L486.52,302.90Z" fill="#ea8a6c"/>
<text x="500" y="308.65" stroke="#000" stroke-width="0.7" textLength="84" lengthAdjust="spacingAndGlyphs" style="font-family:'Liberation Serif',serif;text-rendering:geometricPrecision;font-size:20.5px;font-weight:bold"><tspan font-style="italic">R</tspan> = 18 k&#937;</text>
<line x1="468" y1="324.50" x2="499" y2="324.50" stroke="#eebe82" stroke-width="4"/>
<rect x="478.24" y="319.24" width="10.53" height="10.53" fill="#f0c48c"/>
<text x="500" y="332.00" stroke="#000" stroke-width="0.7" textLength="84" lengthAdjust="spacingAndGlyphs" style="font-family:'Liberation Serif',serif;text-rendering:geometricPrecision;font-size:20.5px;font-weight:bold"><tspan font-style="italic">R</tspan> = 22 k&#937;</text>
<line x1="468" y1="347.85" x2="499" y2="347.85" stroke="#a8d4e6" stroke-width="4"/>
<path d="M483.50,340.91L489.10,347.85L483.50,354.79L477.90,347.85Z" fill="#b2d8ea"/>
<text x="500" y="355.35" stroke="#000" stroke-width="0.7" textLength="84" lengthAdjust="spacingAndGlyphs" style="font-family:'Liberation Serif',serif;text-rendering:geometricPrecision;font-size:20.5px;font-weight:bold"><tspan font-style="italic">R</tspan> = 28 k&#937;</text>
<line x1="468" y1="371.20" x2="499" y2="371.20" stroke="#6e95c8" stroke-width="4"/>
<path d="M483.50,379.41L490.44,367.09L476.56,367.09Z" fill="#7b9fcf"/>
<text x="500" y="378.70" stroke="#000" stroke-width="0.7" textLength="84" lengthAdjust="spacingAndGlyphs" style="font-family:'Liberation Serif',serif;text-rendering:geometricPrecision;font-size:20.5px;font-weight:bold"><tspan font-style="italic">R</tspan> = 35 k&#937;</text>
<line x1="468" y1="394.55" x2="499" y2="394.55" stroke="#7c6ecd" stroke-width="4"/>
<circle cx="483.50" cy="394.55" r="5.04" fill="#8274d0"/>
<text x="500" y="402.05" stroke="#000" stroke-width="0.7" textLength="144.5" lengthAdjust="spacingAndGlyphs" style="font-family:'Liberation Serif',serif;text-rendering:geometricPrecision;font-size:20.5px;font-weight:bold">Without feedback</text>
<rect x="312.3" y="24.2" width="340.20" height="169.60" fill="none" stroke="#000" stroke-width="2.2"/>
<line x1="421.40" y1="24.2" x2="421.40" y2="28.80" stroke="#000" stroke-width="1.6"/>
<line x1="421.40" y1="193.8" x2="421.40" y2="189.20" stroke="#000" stroke-width="1.6"/>
<line x1="530.50" y1="24.2" x2="530.50" y2="28.80" stroke="#000" stroke-width="1.6"/>
<line x1="530.50" y1="193.8" x2="530.50" y2="189.20" stroke="#000" stroke-width="1.6"/>
<line x1="639.60" y1="24.2" x2="639.60" y2="28.80" stroke="#000" stroke-width="1.6"/>
<line x1="639.60" y1="193.8" x2="639.60" y2="189.20" stroke="#000" stroke-width="1.6"/>
<line x1="312.3" y1="151.40" x2="316.90" y2="151.40" stroke="#000" stroke-width="1.6"/>
<line x1="652.5" y1="151.40" x2="647.90" y2="151.40" stroke="#000" stroke-width="1.6"/>
<line x1="312.3" y1="109.00" x2="316.90" y2="109.00" stroke="#000" stroke-width="1.6"/>
<line x1="652.5" y1="109.00" x2="647.90" y2="109.00" stroke="#000" stroke-width="1.6"/>
<line x1="312.3" y1="66.60" x2="316.90" y2="66.60" stroke="#000" stroke-width="1.6"/>
<line x1="652.5" y1="66.60" x2="647.90" y2="66.60" stroke="#000" stroke-width="1.6"/>
<polyline points="312.30,41.16 468.31,77.20 507.59,87.80 559.41,120.02 614.51,151.40 652.69,179.81" fill="none" stroke="#0072bd" stroke-width="4"/>
<path d="M307.30,41.16H317.30M312.30,36.16V46.16" stroke="#0000ff" stroke-width="4"/>
<path d="M463.31,77.20H473.31M468.31,72.20V82.20" stroke="#0000ff" stroke-width="4"/>
<path d="M502.59,87.80H512.59M507.59,82.80V92.80" stroke="#0000ff" stroke-width="4"/>
<path d="M554.41,120.02H564.41M559.41,115.02V125.02" stroke="#0000ff" stroke-width="4"/>
<path d="M609.51,151.40H619.51M614.51,146.40V156.40" stroke="#0000ff" stroke-width="4"/>
<path d="M647.69,179.81H657.69M652.69,174.81V184.81" stroke="#0000ff" stroke-width="4"/>
<text x="307.0" y="200.60000000000002" text-anchor="end" stroke="#000" stroke-width="1.3" style="font-family:'Liberation Serif',serif;text-rendering:geometricPrecision;font-size:19.0px;font-weight:normal" textLength="16.2" lengthAdjust="spacingAndGlyphs">11</text>
<text x="307.0" y="158.20000000000002" text-anchor="end" stroke="#000" stroke-width="1.3" style="font-family:'Liberation Serif',serif;text-rendering:geometricPrecision;font-size:19.0px;font-weight:normal" textLength="16.2" lengthAdjust="spacingAndGlyphs">12</text>
<text x="307.0" y="115.80000000000001" text-anchor="end" stroke="#000" stroke-width="1.3" style="font-family:'Liberation Serif',serif;text-rendering:geometricPrecision;font-size:19.0px;font-weight:normal" textLength="16.2" lengthAdjust="spacingAndGlyphs">13</text>
<text x="307.0" y="73.4" text-anchor="end" stroke="#000" stroke-width="1.3" style="font-family:'Liberation Serif',serif;text-rendering:geometricPrecision;font-size:19.0px;font-weight:normal" textLength="16.2" lengthAdjust="spacingAndGlyphs">14</text>
<text x="307.0" y="31.0" text-anchor="end" stroke="#000" stroke-width="1.3" style="font-family:'Liberation Serif',serif;text-rendering:geometricPrecision;font-size:19.0px;font-weight:normal" textLength="16.2" lengthAdjust="spacingAndGlyphs">15</text>
<text x="312.3" y="215.3" text-anchor="middle" stroke="#000" stroke-width="1.3" style="font-family:'Liberation Serif',serif;text-rendering:geometricPrecision;font-size:19px;font-weight:normal" >0</text>
<text x="421.4" y="215.3" text-anchor="middle" stroke="#000" stroke-width="1.3" style="font-family:'Liberation Serif',serif;text-rendering:geometricPrecision;font-size:19px;font-weight:normal" >2</text>
<text x="530.5" y="215.3" text-anchor="middle" stroke="#000" stroke-width="1.3" style="font-family:'Liberation Serif',serif;text-rendering:geometricPrecision;font-size:19px;font-weight:normal" >4</text>
<text x="614.6" y="220.8" text-anchor="middle" stroke="#000" stroke-width="1.3" style="font-family:'Liberation Serif',serif;text-rendering:geometricPrecision;font-size:19px;font-weight:normal" >6</text>
<text x="627.2" y="220.8" text-anchor="middle" stroke="#000" stroke-width="1.3" style="font-family:'Liberation Serif',serif;text-rendering:geometricPrecision;font-size:19px;font-weight:normal" >&#215;</text>
<text x="646.7" y="220.8" text-anchor="middle" stroke="#000" stroke-width="1.3" style="font-family:'Liberation Serif',serif;text-rendering:geometricPrecision;font-size:19px;font-weight:normal" textLength="17.2" lengthAdjust="spacingAndGlyphs">10</text>
<text x="661.6" y="211.6" text-anchor="middle" stroke="#000" stroke-width="1.3" style="font-family:'Liberation Serif',serif;text-rendering:geometricPrecision;font-size:15px;font-weight:normal" textLength="11" lengthAdjust="spacingAndGlyphs">&#8722;5</text>
<text x="484" y="239.5" text-anchor="middle" stroke="#000" stroke-width="0.7" style="font-family:'Liberation Serif',serif;text-rendering:geometricPrecision;font-size:22px;font-weight:bold" textLength="244" lengthAdjust="spacingAndGlyphs">Feedback factor (units of 1/<tspan font-style="italic">R</tspan>)</text>
<g transform="translate(277.3,118) rotate(-90)"><text x="0" y="0" text-anchor="middle" stroke="#000" stroke-width="1.3" style="font-family:'Liberation Serif',serif;text-rendering:geometricPrecision;font-size:20px;font-weight:normal" textLength="210" lengthAdjust="spacingAndGlyphs">Resonance frequency (Hz)</text></g>
</g>
<path d="M464.5,406V263.5H651.5" fill="none" stroke="#b4b4b4" stroke-width="1"/>
<path d="M651.5,263V408.5H464" fill="none" stroke="#d8d8d8" stroke-width="1"/>
<path d="M465,404.5H650.5" fill="none" stroke="#8c8c8c" stroke-width="1"/></svg></body></html>
